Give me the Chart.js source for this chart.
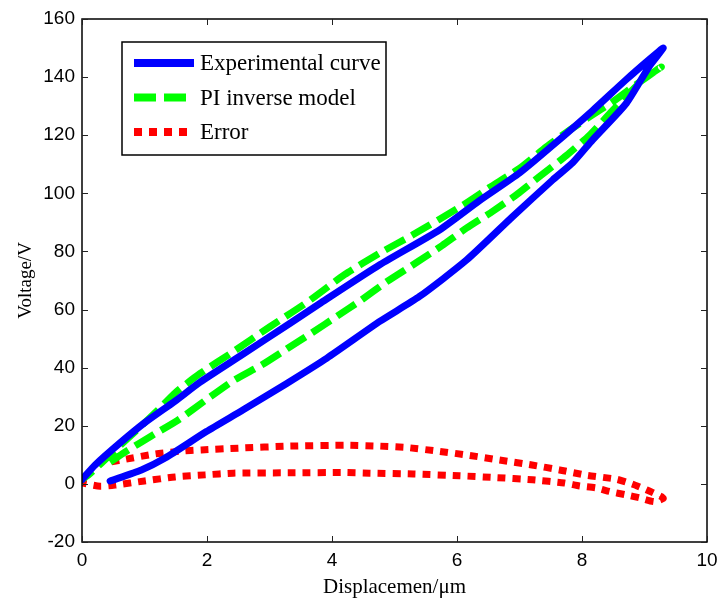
<!DOCTYPE html>
<html>
<head>
<meta charset="utf-8">
<script src="https://cdn.jsdelivr.net/npm/chart.js@4.4.0/dist/chart.umd.min.js"></script>
<style>
  html, body { margin: 0; padding: 0; background: #fff; }
  #wrap { width: 719px; height: 603px; }
</style>
</head>
<body>
<div id="wrap"><canvas id="hysteresisChart"></canvas></div>
<script>
// experimental loop: ascending branch, then descending branch
const expDisp = [0.45, 0.95, 1.33, 1.99, 2.58, 3.27, 3.92, 4.77, 5.4, 6.15, 6.89, 7.53, 7.85, 8.17, 8.71, 9.07, 9.3,
                 9.1, 8.7, 8.17, 7.53, 7.0, 6.36, 5.72, 4.77, 3.8, 3.33, 2.53, 1.89, 1.49, 1.0, 0.63, 0.21, 0];
const expVolt = [1, 4.8, 8.9, 18, 25.5, 34.5, 43.3, 56, 64.5, 77, 92, 104.6, 110.5, 118.4, 131, 143.5, 150,
                 146.5, 139, 128.5, 116.5, 107, 97.5, 87.4, 75.5, 62, 55.3, 44, 35, 28.5, 21, 14.5, 6.5, 1.5];

// PI inverse model loop
const modelDisp = [0.45, 0.69, 1.11, 1.54, 1.99, 2.42, 2.88, 3.28, 3.68, 4.1, 4.45, 4.87, 5.34, 5.76, 6.15, 6.57, 6.97, 7.32, 7.75, 8.12, 8.49, 8.97, 9.27,
                   8.87, 8.49, 8.12, 7.75, 7.43, 7.0, 6.52, 6.1, 5.3, 4.77, 4.2, 3.6, 3.0, 2.42, 1.89, 1.5, 1.22, 0.85, 0.5, 0.1, 0];
const modelVolt = [7.5, 11, 16.5, 22, 29, 35.5, 41, 46.5, 52, 58, 63, 69.5, 76, 82, 88, 93.8, 99.8, 105.8, 113, 120, 128.5, 139, 143.5,
                   137.5, 131.5, 126.3, 121, 116, 108.6, 102, 96, 85.8, 79.5, 72, 62.5, 54, 45.5, 38, 31.5, 25.5, 18, 11, 3, 1.5];

// error curve
const errDisp = [0.47, 0.7, 1.17, 1.65, 1.91, 2.5, 3.33, 4.24, 4.77, 5.2, 5.72, 6.2, 6.68, 7.2, 7.64, 8.07, 8.55, 8.8, 9.03, 9.27,
                 9.3, 9.16, 8.92, 8.71, 8.44, 8.23, 7.96, 7.72, 7.21, 6.6, 6.04, 5.3, 4.6, 4.24, 3.3, 2.42, 1.97, 1.49, 1.0, 0.53, 0.29, 0];
const errVolt = [7.6, 8.5, 10.3, 11.4, 11.7, 12.3, 13, 13.3, 13, 12.5, 11.2, 9.8, 8.2, 6.5, 4.8, 3, 1.6, 0, -2, -4.4,
                 -5, -6.1, -4.8, -3.8, -2.6, -1.4, -0.7, 0.3, 1.4, 2.2, 2.8, 3.4, 3.7, 3.9, 3.8, 3.7, 3.1, 2.4, 1, -0.4, -0.8, 0.3];

const xTicks = [0, 2, 4, 6, 8, 10];
const yTicks = [-20, 0, 20, 40, 60, 80, 100, 120, 140, 160];

function toPoints(xs, ys) {
    return xs.map((x, i) => ({ x: x, y: ys[i] }));
}

const framePlugin = {
    id: 'frame',
    afterDraw(chart) {
        const ctx = chart.ctx;
        const a = chart.chartArea;
        const xs = chart.scales.x;
        const ys = chart.scales.y;
        ctx.save();
        ctx.strokeStyle = '#000';
        ctx.lineWidth = 1.5;
        ctx.strokeRect(a.left, a.top, a.right - a.left, a.bottom - a.top);
        ctx.lineWidth = 1;
        ctx.strokeStyle = '#222';
        ctx.beginPath();
        xTicks.forEach(v => {
            const px = Math.round(xs.getPixelForValue(v)) + 0.5;
            ctx.moveTo(px, a.bottom); ctx.lineTo(px, a.bottom - 6);
            ctx.moveTo(px, a.top); ctx.lineTo(px, a.top + 6);
        });
        yTicks.forEach(v => {
            const py = Math.round(ys.getPixelForValue(v)) + 0.5;
            ctx.moveTo(a.left, py); ctx.lineTo(a.left + 6, py);
            ctx.moveTo(a.right, py); ctx.lineTo(a.right - 6, py);
        });
        ctx.stroke();

        // legend box
        const bx = 122, by = 42, bw = 264, bh = 113;
        ctx.fillStyle = '#fff';
        ctx.fillRect(bx, by, bw, bh);
        ctx.strokeStyle = '#000';
        ctx.lineWidth = 1.5;
        ctx.strokeRect(bx, by, bw, bh);
        const rows = [63, 97.5, 132];
        ctx.font = '23px "Liberation Serif", serif';
        ctx.textBaseline = 'middle';
        chart.data.datasets.forEach((ds, i) => {
            ctx.save();
            ctx.strokeStyle = ds.borderColor;
            ctx.lineWidth = 8;
            ctx.lineCap = 'butt';
            ctx.setLineDash(ds.borderDash || []);
            ctx.beginPath();
            ctx.moveTo(134, rows[i]);
            ctx.lineTo(194, rows[i]);
            ctx.stroke();
            ctx.restore();
            ctx.fillStyle = '#000';
            ctx.fillText(ds.label, 200, rows[i] + 1);
        });
        ctx.restore();
    }
};

const ctx = document.getElementById('hysteresisChart').getContext('2d');

const chart = new Chart(ctx, {
    type: 'scatter',
    data: {
        datasets: [{
            label: 'Experimental curve',
            data: toPoints(expDisp, expVolt),
            showLine: true,
            borderColor: '#0000ff',
            borderWidth: 7,
            borderCapStyle: 'round',
            borderJoinStyle: 'round',
            pointRadius: 0,
            tension: 0.2
        }, {
            label: 'PI inverse model',
            data: toPoints(modelDisp, modelVolt),
            showLine: true,
            borderColor: '#00ff00',
            borderWidth: 7,
            borderDash: [22, 8],
            borderJoinStyle: 'round',
            pointRadius: 0,
            tension: 0.2
        }, {
            label: 'Error',
            data: toPoints(errDisp, errVolt),
            showLine: true,
            borderColor: '#ff0000',
            borderWidth: 7,
            borderDash: [8, 7],
            pointRadius: 0,
            tension: 0.2
        }]
    },
    options: {
        responsive: true,
        maintainAspectRatio: false,
        animation: false,
        layout: {
            padding: { top: 19, right: 12, left: 0, bottom: 0 }
        },
        scales: {
            x: {
                type: 'linear',
                min: 0,
                max: 10,
                afterFit: s => { s.height = 61; s.paddingLeft = 0; s.paddingRight = 0; },
                afterBuildTicks: s => { s.ticks = xTicks.map(v => ({ value: v })); },
                grid: { display: false, drawTicks: false },
                border: { display: false },
                ticks: {
                    padding: 7,
                    color: '#000',
                    font: { family: '"Liberation Sans", Arial, sans-serif', size: 19 }
                },
                title: {
                    display: true,
                    text: 'Displacemen/μm',
                    color: '#000',
                    padding: { top: 0, bottom: 3 },
                    font: { family: '"Liberation Serif", serif', size: 21 }
                }
            },
            y: {
                type: 'linear',
                min: -20,
                max: 160,
                afterFit: s => { s.width = 82; s.paddingTop = 0; s.paddingBottom = 0; },
                afterBuildTicks: s => { s.ticks = yTicks.map(v => ({ value: v })); },
                grid: { display: false, drawTicks: false },
                border: { display: false },
                ticks: {
                    padding: 7,
                    color: '#000',
                    font: { family: '"Liberation Sans", Arial, sans-serif', size: 19 }
                },
                title: {
                    display: true,
                    text: 'Voltage/V',
                    color: '#000',
                    padding: { top: 15, bottom: 0 },
                    font: { family: '"Liberation Serif", serif', size: 19 }
                }
            }
        },
        plugins: {
            legend: { display: false },
            tooltip: { enabled: false }
        }
    },
    plugins: [framePlugin]
});
</script>
</body>
</html>
